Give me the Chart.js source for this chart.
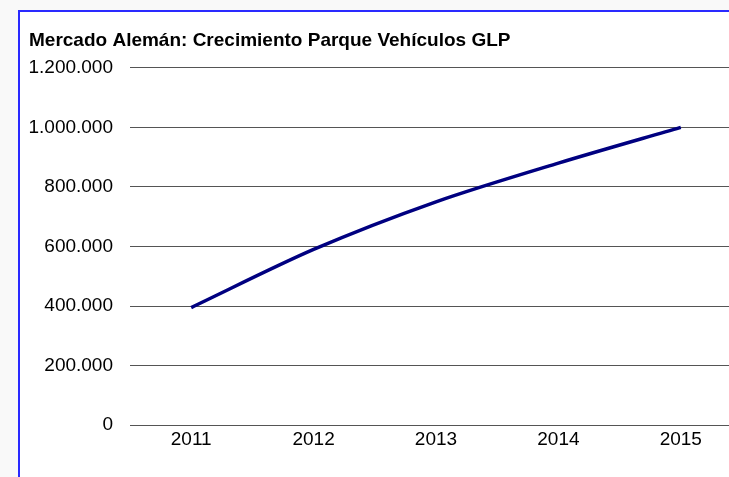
<!DOCTYPE html>
<html lang="es">
<head>
  <meta charset="UTF-8">
  <title>Mercado Alemán: Crecimiento Parque Vehículos GLP</title>
  <script src="https://cdn.jsdelivr.net/npm/chart.js"></script>
  <style>
    html, body {
      margin: 0;
      padding: 0;
      overflow: hidden;
      background: #f9f9f9;
      width: 729px;
      height: 477px;
    }
    .frame {
      position: absolute;
      left: 18px;
      top: 10px;
      width: 760px;
      height: 480px;
      background: #fff;
      border-left: 2px solid #2a2aff;
      border-top: 2px solid #2a2aff;
    }
    .chart-box {
      position: absolute;
      left: 0;
      top: 0;
      width: 722px;
      height: 442px;
    }
  </style>
</head>
<body>
  <div class="frame">
    <div class="chart-box">
      <canvas id="glpChart"></canvas>
    </div>
  </div>

  <script>
    // data
    const years = ['2011', '2012', '2013', '2014', '2015'];
    const vehicles = [395000, 590000, 750000, 880000, 1000000];
    const yTicks = [0, 200000, 400000, 600000, 800000, 1000000, 1200000];

    const FONT = 'Liberation Sans, Arial, sans-serif';

    // 1200000 -> "1.200.000"
    function withDots(v) {
      return String(v).replace(/\B(?=(\d{3})+(?!\d))/g, '.');
    }

    const ctx = document.getElementById('glpChart').getContext('2d');
    new Chart(ctx, {
      type: 'line',
      data: {
        labels: years,
        datasets: [{
          label: 'Parque Vehículos GLP',
          data: vehicles,
          borderColor: '#000080',
          borderWidth: 3.5,
          pointRadius: 0,
          tension: 0.3,
          fill: false
        }]
      },
      options: {
        responsive: true,
        maintainAspectRatio: false,
        animation: false,
        layout: { padding: { left: 9, right: 0, top: 0, bottom: 0 } },
        plugins: {
          legend: { display: false },
          tooltip: { enabled: false },
          title: {
            display: true,
            text: 'Mercado Alemán: Crecimiento Parque Vehículos GLP',
            align: 'start',
            color: '#000',
            font: { family: FONT, size: 19, weight: 'bold' },
            padding: { top: 17, bottom: 16 }
          }
        },
        scales: {
          x: {
            offset: true,
            grid: { display: false, drawTicks: false },
            border: { display: false },
            ticks: {
              color: '#000',
              font: { family: FONT, size: 19 },
              padding: 3,
              maxRotation: 0
            }
          },
          y: {
            min: 0,
            max: 1200000,
            afterBuildTicks: (scale) => {
              scale.ticks = yTicks.map(v => ({ value: v }));
            },
            afterFit: (scale) => { scale.width = 101; },
            grid: { color: '#555', lineWidth: 1, drawTicks: false },
            border: { display: false },
            ticks: {
              color: '#000',
              font: { family: FONT, size: 19 },
              padding: 17,
              callback: (v) => withDots(v)
            }
          }
        }
      }
    });
  </script>
</body>
</html>
